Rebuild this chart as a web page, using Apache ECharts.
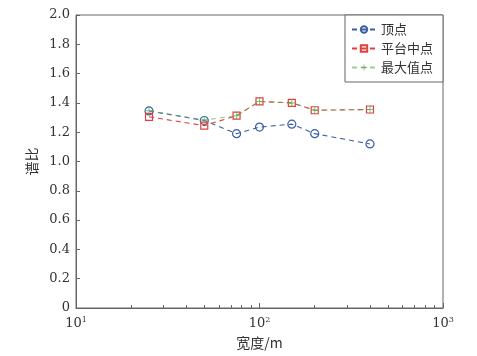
<!DOCTYPE html>
<html><head><meta charset="utf-8">
<script src="https://cdn.jsdelivr.net/npm/echarts@6/dist/echarts.min.js"></script>
<style>html,body{margin:0;padding:0;background:#fff}#c{width:477px;height:356px}</style>
</head><body><div id="c"></div>
<script>
const widths = [25, 50, 75, 100, 150, 200, 400];
const vertex = [1.345, 1.28, 1.19, 1.235, 1.255, 1.19, 1.12];
const platformMid = [1.305, 1.245, 1.313, 1.41, 1.40, 1.35, 1.355];
const maxPoint = [1.347, 1.283, 1.313, 1.41, 1.40, 1.35, 1.355];
const seriesNames = ['顶点', '平台中点', '最大值点'];
const yTicks = [0, 0.2, 0.4, 0.6, 0.8, 1.0, 1.2, 1.4, 1.6, 1.8, 2.0];
const xMajor = [10, 100, 1000];
const xMinor = [20, 30, 40, 50, 60, 70, 80, 90, 200, 300, 400, 500, 600, 700, 800, 900];
const xAxisName = '宽度/m';
const yAxisName = '谱比';

const serif = '"DejaVu Serif", "Liberation Serif", "Noto Sans CJK SC", serif';
const cjk = '"Noto Sans CJK SC", serif';
const axisColor = '#666';
const txt = '#333';
const blue = '#3b5ea6', red = '#e0403c', green = '#5cad4f';
const plusPath = 'path://M4.4,0h1.2v4.4h4.4v1.2h-4.4v4.4h-1.2v-4.4h-4.4v-1.2h4.4z';

const chart = echarts.init(document.getElementById('c'), null, {renderer: 'canvas'});
const pairs = a => widths.map((w, i) => [w, a[i]]);
const grid = {left: 76, right: 34, top: 15, bottom: 48};
chart.setOption({
  animation: false,
  backgroundColor: '#fff',
  grid: Object.assign({show: true, borderColor: axisColor, borderWidth: 1}, grid),
  legend: {
    right: 34, top: 15, orient: 'vertical', itemWidth: 24, itemHeight: 8, itemGap: 6,
    padding: [8, 10, 8, 6],
    borderColor: axisColor, borderWidth: 1, backgroundColor: '#fff',
    textStyle: {fontFamily: cjk, fontSize: 13, color: txt},
    data: seriesNames
  },
  xAxis: [{
    type: 'log', logBase: 10, min: 10, max: 1000, position: 'bottom',
    axisLine: {lineStyle: {color: axisColor}},
    axisTick: {inside: true, length: 5, lineStyle: {color: axisColor}, customValues: xMajor},
    splitLine: {show: false},
    axisLabel: {
      margin: 8, customValues: xMajor,
      formatter: v => '{b|10}{s|' + Math.round(Math.log10(v)) + '}',
      rich: {
        b: {fontFamily: serif, fontSize: 13, color: txt},
        s: {fontFamily: serif, fontSize: 8, color: txt, verticalAlign: 'top', padding: [0, 0, 8, 0]}
      }
    },
    name: xAxisName, nameLocation: 'middle', nameGap: 27,
    nameTextStyle: {fontFamily: cjk, fontSize: 14, color: txt}
  }, {
    type: 'log', logBase: 10, min: 10, max: 1000, position: 'bottom',
    axisLine: {show: false},
    axisTick: {inside: true, length: 3, lineStyle: {color: axisColor}, customValues: xMinor},
    axisLabel: {show: false}, splitLine: {show: false}
  }],
  yAxis: {
    type: 'value', min: 0, max: 2, interval: 0.2,
    axisLine: {show: true, lineStyle: {color: axisColor}},
    axisTick: {show: true, inside: true, length: 4, lineStyle: {color: axisColor}},
    splitLine: {show: false},
    axisLabel: {
      margin: 6, fontFamily: serif, fontSize: 13, color: txt,
      formatter: v => v === 0 ? '0' : v.toFixed(1)
    },
    name: yAxisName, nameLocation: 'middle', nameGap: 34,
    nameTextStyle: {fontFamily: cjk, fontSize: 14, color: txt}
  },
  series: [{
    name: seriesNames[0], type: 'line', data: pairs(vertex),
    symbol: 'circle', symbolSize: 8,
    itemStyle: {color: 'rgba(255,255,255,0)', borderColor: blue, borderWidth: 1.2},
    lineStyle: {color: blue, width: 1.1, type: [5, 4]}, z: 2
  }, {
    name: seriesNames[1], type: 'line', data: pairs(platformMid),
    symbol: 'rect', symbolSize: 7,
    itemStyle: {color: 'rgba(255,255,255,0)', borderColor: red, borderWidth: 1.2},
    lineStyle: {color: red, width: 1.1, type: [5, 4]}, z: 3
  }, {
    name: seriesNames[2], type: 'line', data: pairs(maxPoint),
    symbol: plusPath, symbolSize: 8,
    itemStyle: {color: green, opacity: 0.75},
    lineStyle: {color: green, width: 1.1, type: [5, 4], opacity: 0.6}, z: 4
  }]
});
</script></body></html>
